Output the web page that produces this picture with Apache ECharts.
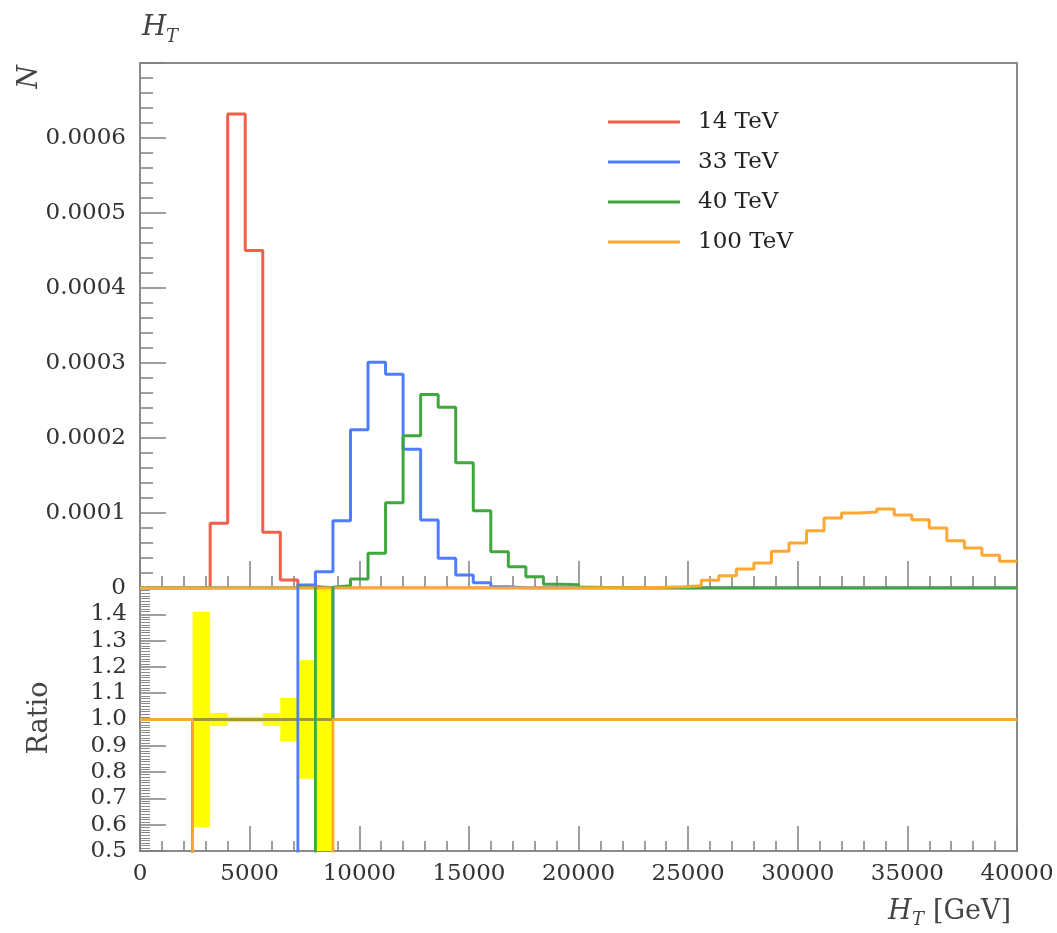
<!DOCTYPE html>
<html>
<head>
<meta charset="utf-8">
<script src="https://cdn.jsdelivr.net/npm/echarts@6/dist/echarts.min.js"></script>
<style>
  html, body { margin: 0; padding: 0; background: #fff; }
  #chart { width: 1057px; height: 933px; }
</style>
</head>
<body>
<div id="chart"></div>
<script>
// ---- H_T histograms, 800 GeV bins, normalised to unit area ----
const binWidth = 800;
const xMin = 0;
const xMax = 40000;

const ht14Start = 2400;
const ht14 = [0.0000003, 0.0000863, 0.000632, 0.000450, 0.0000742, 0.0000107, 0.000002, 0.0000003];

const ht33Start = 7200;
const ht33 = [0.000004, 0.0000218, 0.0000898, 0.000211, 0.000301, 0.000285, 0.000185, 0.0000907,
              0.0000396, 0.0000173, 0.000007, 0.0000018];

const ht40Start = 8000;
const ht40 = [0.000001, 0.000003, 0.000012, 0.0000462, 0.0001138, 0.000203, 0.000258, 0.000241,
              0.000167, 0.000103, 0.0000484, 0.0000284, 0.0000151, 0.000005, 0.0000045, 0.000001,
              0.0000005];

const ht100Start = 20000;
const ht100 = [0.0000002, 0.0000003, 0.0000005, 0.0000007, 0.000001, 0.0000018, 0.0000031, 0.0000102,
               0.0000164, 0.0000253, 0.0000333, 0.0000489, 0.00006, 0.0000764, 0.0000933, 0.0001,
               0.0001013, 0.0001053, 0.0000973, 0.0000911, 0.00008, 0.0000631, 0.0000533, 0.0000436,
               0.0000356];

const seriesNames = ['14 TeV', '33 TeV', '40 TeV', '100 TeV'];
const seriesColors = ['#f0604a', '#4f7dff', '#3ea83e', '#ffa733'];

// ---- ratio panel (relative to 14 TeV), values per interval between edges ----
const ratioEdges = [0, 2400, 3200, 4000, 4800, 5600, 6400, 7200, 8000, 8800, 40000];
const ratio14  = [1, 1, 1, 1, 1, 1, 1, 1, 1, 1];
const ratio33  = [1, 0, 0, 0, 0, 0, 0, 3, 3, 1];
const ratio40  = [1, 0, 0, 0, 0, 0, 0, 0, 3, 1];
const ratio100 = [1, 0, 0, 0, 0, 0, 0, 0, 0, 1];
// uncertainty band of the 14 TeV reference
const bandLo = [null, 0.59, 0.975, 0.99, 0.99, 0.976, 0.918, 0.775, 0, null];
const bandHi = [null, 1.41, 1.025, 1.01, 1.01, 1.024, 1.082, 1.225, 2, null];

const xTicksMajor = 5000;
const yTopMax = 0.0007;
const yTopStep = 0.0001;
const ratioMin = 0.5, ratioMax = 1.5, ratioStep = 0.1;

// ---- helpers ----
function histPoints(start, values) {
  // full-range step outline: empty bins outside the filled range are zero
  const pts = [];
  for (let e = xMin; e < start; e += binWidth) pts.push([e, 0]);
  values.forEach((v, i) => pts.push([start + i * binWidth, v]));
  const end = start + values.length * binWidth;
  for (let e = end; e < xMax; e += binWidth) pts.push([e, 0]);
  const last = pts[pts.length - 1][1];
  pts.push([xMax, last]);
  return pts;
}
function ratioPoints(values) {
  const pts = values.map((v, i) => [ratioEdges[i], v]);
  pts.push([ratioEdges[ratioEdges.length - 1], values[values.length - 1]]);
  return pts;
}
const bandData = [];
bandLo.forEach((lo, i) => {
  if (lo !== null) bandData.push([ratioEdges[i], ratioEdges[i + 1], lo, bandHi[i]]);
});

const FONT = '"DejaVu Serif", "Liberation Serif", serif';
const TEXT = '#333';
const FRAME = '#8c8c8c';

const histSets = [[ht14Start, ht14], [ht33Start, ht33], [ht40Start, ht40], [ht100Start, ht100]];
const ratioSets = [ratio14, ratio33, ratio40, ratio100];
const ratioColors = ['#9c9c34', seriesColors[1], seriesColors[2], seriesColors[3]];

function xAxisCfg(gridIndex, showLabels, major, minor) {
  return {
    type: 'value', gridIndex, min: xMin, max: xMax, interval: xTicksMajor,
    axisLine: { show: true, lineStyle: { color: FRAME, width: 2 } },
    axisTick: { show: true, inside: true, length: major, lineStyle: { color: '#808080', width: 1.5 } },
    minorTick: { show: true, splitNumber: 5, length: minor, lineStyle: { color: '#808080', width: 1.5 } },
    splitLine: { show: false },
    axisLabel: {
      show: showLabels, fontFamily: FONT, fontSize: 23, color: TEXT, margin: 12,
      formatter: v => String(Math.round(v))
    }
  };
}

const chart = echarts.init(document.getElementById('chart'), null, { renderer: 'canvas' });

const series = [];
histSets.forEach(([start, vals], i) => {
  series.push({
    name: seriesNames[i], type: 'line', xAxisIndex: 0, yAxisIndex: 0,
    step: 'end', symbol: 'none', color: seriesColors[i],
    lineStyle: { width: 3, color: seriesColors[i] },
    data: histPoints(start, vals), z: 3
  });
});
series.push({
  name: 'band', type: 'custom', xAxisIndex: 1, yAxisIndex: 1,
  data: bandData, encode: { x: [0, 1], y: [2, 3] }, z: 2,
  renderItem(params, api) {
    const p0 = api.coord([api.value(0), api.value(3)]);
    const p1 = api.coord([api.value(1), api.value(2)]);
    const cs = params.coordSys;
    const rect = echarts.graphic.clipRectByRect(
      { x: p0[0], y: p0[1], width: p1[0] - p0[0], height: p1[1] - p0[1] },
      { x: cs.x, y: cs.y, width: cs.width, height: cs.height });
    return rect && { type: 'rect', shape: rect, style: { fill: '#ffff00' } };
  }
});
ratioSets.forEach((vals, i) => {
  series.push({
    name: 'ratio ' + seriesNames[i], type: 'line', xAxisIndex: 1, yAxisIndex: 1,
    step: 'end', symbol: 'none', clip: true,
    lineStyle: { width: 2.8, color: ratioColors[i] },
    data: ratioPoints(vals), z: 3
  });
});

chart.setOption({
  animation: false,
  backgroundColor: '#fff',
  grid: [
    { left: 140, right: 40, top: 63, height: 525, show: true, borderColor: FRAME, borderWidth: 2 },
    { left: 140, right: 40, top: 588, height: 263, show: true, borderColor: FRAME, borderWidth: 2 }
  ],
  xAxis: [xAxisCfg(0, false, 27, 12), xAxisCfg(1, true, 25, 10)],
  yAxis: [
    {
      type: 'value', gridIndex: 0, min: 0, max: yTopMax, interval: yTopStep,
      axisLine: { show: true, lineStyle: { color: FRAME, width: 2 } },
      axisTick: { show: true, inside: true, length: 26, lineStyle: { color: '#808080', width: 1.5 } },
      minorTick: { show: true, splitNumber: 5, length: 13, lineStyle: { color: '#808080', width: 1.5 } },
      splitLine: { show: false },
      axisLabel: {
        fontFamily: FONT, fontSize: 23, color: TEXT, margin: 14,
        formatter: v => (v === 0 ? '0' : (Math.abs(v - yTopMax) < 1e-9 ? '' : v.toFixed(4)))
      }
    },
    {
      type: 'value', gridIndex: 1, min: ratioMin, max: ratioMax, interval: ratioStep,
      axisLine: { show: true, lineStyle: { color: FRAME, width: 2 } },
      axisTick: { show: true, inside: true, length: 26, lineStyle: { color: '#808080', width: 1.5 } },
      minorTick: { show: true, splitNumber: 10, length: 10, lineStyle: { color: '#8a8a8a', width: 1 } },
      splitLine: { show: false },
      axisLabel: {
        fontFamily: FONT, fontSize: 23, color: TEXT, margin: 13,
        formatter: v => (Math.abs(v - ratioMax) < 1e-9 ? '' : v.toFixed(1))
      }
    }
  ],
  legend: {
    orient: 'vertical', left: 603, top: 103, itemWidth: 72, itemHeight: 3, itemGap: 12,
    icon: 'rect', selectedMode: false, data: seriesNames,
    textStyle: { fontFamily: FONT, fontSize: 23, color: '#222', lineHeight: 28, padding: [0, 0, 0, 13] }
  },
  graphic: [
    { type: 'text', x: 142, y: 28, style: { text: 'H', font: 'italic 28px ' + FONT, fill: '#444', verticalAlign: 'middle' } },
    { type: 'text', x: 166, y: 37, style: { text: 'T', font: 'italic 18px ' + FONT, fill: '#444', verticalAlign: 'middle' } },
    { type: 'text', x: 30, y: 77, rotation: Math.PI / 2, style: { text: 'N', font: 'italic 27px ' + FONT, fill: '#444', align: 'center', verticalAlign: 'middle' } },
    { type: 'text', x: 40, y: 718, rotation: Math.PI / 2, style: { text: 'Ratio', font: '27px ' + FONT, fill: '#444', align: 'center', verticalAlign: 'middle' } },
    { type: 'text', x: 888, y: 912, style: { text: 'H', font: 'italic 27px ' + FONT, fill: '#444', verticalAlign: 'middle' } },
    { type: 'text', x: 912, y: 920, style: { text: 'T', font: 'italic 18px ' + FONT, fill: '#444', verticalAlign: 'middle' } },
    { type: 'text', x: 933, y: 912, style: { text: '[GeV]', font: '27px ' + FONT, fill: '#444', verticalAlign: 'middle' } }
  ],
  series
});
</script>
</body>
</html>
